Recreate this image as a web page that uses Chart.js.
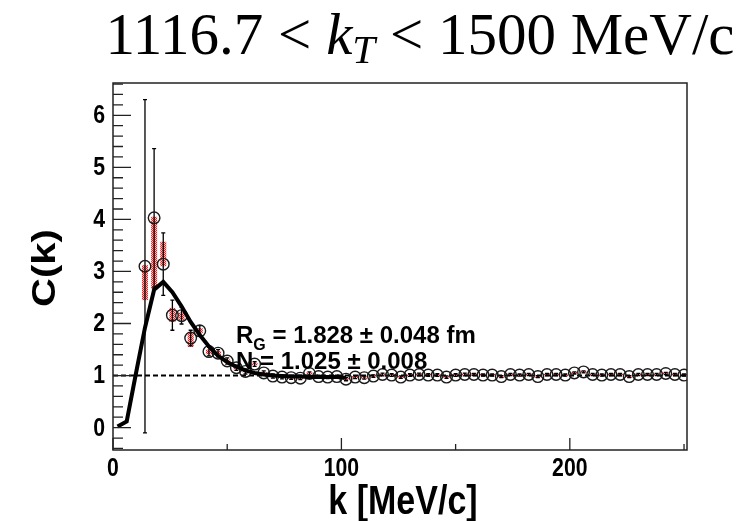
<!DOCTYPE html>
<html>
<head>
<meta charset="utf-8">
<script src="https://cdn.jsdelivr.net/npm/chart.js@4.4.1/dist/chart.umd.min.js"></script>
<style>
  html, body { margin: 0; padding: 0; background: #fff; }
  #cf { display: block; }
</style>
</head>
<body>
<canvas id="cf" width="739" height="521"></canvas>
<script>
// correlation function bins (bin centres, MeV/c)
const kBins = [14, 18, 22, 26, 30, 34, 38, 42, 46, 50,
  54, 58, 62, 66, 70, 74, 78, 82, 86, 90,
  94, 98, 102, 106, 110, 114, 118, 122, 126, 130,
  134, 138, 142, 146, 150, 154, 158, 162, 166, 170,
  174, 178, 182, 186, 190, 194, 198, 202, 206, 210,
  214, 218, 222, 226, 230, 234, 238, 242, 246, 250];
const cValues = [3.10, 4.03, 3.14, 2.16, 2.15, 1.72, 1.86, 1.46, 1.43, 1.28,
  1.15, 1.08, 1.22, 1.05, 0.99, 0.97, 0.96, 0.95, 1.04, 0.98,
  0.97, 0.98, 0.93, 0.97, 0.96, 0.99, 1.02, 1.01, 0.97, 1.01,
  1.02, 1.01, 1.01, 0.97, 1.01, 1.02, 1.02, 1.01, 1.01, 0.98,
  1.02, 1.01, 1.02, 0.98, 1.02, 1.02, 1.01, 1.05, 1.07, 1.02,
  1.01, 1.02, 1.02, 0.98, 1.02, 1.02, 1.02, 1.04, 1.02, 1.01];
const statErr = [3.20, 1.33, 0.60, 0.29, 0.16, 0.15, 0.10, 0.08, 0.07, 0.06,
  0.05, 0.05, 0.045, 0.04, 0.04, 0.035, 0.035, 0.03, 0.03, 0.03,
  0.03, 0.03, 0.03, 0.03, 0.03, 0.025, 0.025, 0.025, 0.025, 0.025,
  0.025, 0.025, 0.025, 0.025, 0.025, 0.025, 0.02, 0.02, 0.02, 0.02,
  0.02, 0.02, 0.02, 0.02, 0.02, 0.02, 0.02, 0.02, 0.02, 0.02,
  0.02, 0.02, 0.02, 0.02, 0.02, 0.02, 0.02, 0.02, 0.02, 0.02];
const sysDown = [0.65, 1.37, 0.04, 0.13, 0.08, 0.17, 0.05, 0.05, 0.04, 0.03,
  0.03, 0.02, 0.02, 0.02, 0.02, 0.02, 0.02, 0.02, 0.02, 0.02,
  0.02, 0.02, 0.02, 0.02, 0.02, 0.02, 0.02, 0.02, 0.02, 0.02,
  0.02, 0.02, 0.02, 0.02, 0.02, 0.02, 0.02, 0.02, 0.02, 0.02,
  0.02, 0.02, 0.02, 0.02, 0.02, 0.02, 0.02, 0.02, 0.02, 0.02,
  0.02, 0.02, 0.02, 0.02, 0.02, 0.02, 0.02, 0.02, 0.02, 0.02];
const sysUp = [0.02, 0.02, 0.43, 0.14, 0.06, 0.12, 0.05, 0.04, 0.04, 0.03,
  0.03, 0.02, 0.02, 0.02, 0.02, 0.02, 0.02, 0.02, 0.02, 0.02,
  0.02, 0.02, 0.02, 0.02, 0.02, 0.02, 0.02, 0.02, 0.02, 0.02,
  0.02, 0.02, 0.02, 0.02, 0.02, 0.02, 0.02, 0.02, 0.02, 0.02,
  0.02, 0.02, 0.02, 0.02, 0.02, 0.02, 0.02, 0.02, 0.02, 0.02,
  0.02, 0.02, 0.02, 0.02, 0.02, 0.02, 0.02, 0.02, 0.02, 0.02];

// gaussian fit, evaluated at the bin centres
const fitK = [2, 6, 10, 14, 18, 22, 26, 30, 34, 38, 42, 46, 50,
  54, 58, 62, 66, 70, 74, 78, 82, 86, 90, 94, 98, 102];
const fitC = [0.02, 0.12, 1.03, 1.92, 2.65, 2.80, 2.60, 2.33, 2.03, 1.78, 1.56, 1.38, 1.26,
  1.17, 1.10, 1.05, 1.02, 1.00, 0.99, 0.98, 0.98, 0.97, 0.97, 0.97, 0.97, 0.96];

const xTicks = [0, 100, 200];
const xHalfTicks = [50, 150, 250];
const yTicks = [0, 1, 2, 3, 4, 5, 6];
const xRange = [0, 251.3];
const yRange = [-0.43, 6.62];

const fitText = ['R', 'G', ' = 1.828 \u00b1 0.048 fm'];
const normText = 'N = 1.025 \u00b1 0.008';

const BOLD = '"Liberation Sans", Arial, sans-serif';
const SERIF = '"Liberation Serif", "DejaVu Serif", serif';

function hatch() {
  const c = document.createElement('canvas');
  c.width = 2; c.height = 2;
  const g = c.getContext('2d');
  g.fillStyle = '#ffc0c0'; g.fillRect(0, 0, 2, 2);
  g.fillStyle = '#f22020'; g.fillRect(0, 0, 1, 1); g.fillRect(1, 1, 1, 1);
  return g.createPattern(c, 'repeat');
}

// squeezed text, the way ROOT's helvetica-bold comes out
function squeezed(ctx, txt, x, y, sx, align) {
  ctx.save();
  ctx.translate(x, y);
  ctx.scale(sx, 1);
  ctx.textAlign = align;
  ctx.fillText(txt, 0, 0);
  ctx.restore();
}

const decor = {
  id: 'decor',
  beforeDatasetsDraw(chart) {
    const ctx = chart.ctx, xs = chart.scales.x, ys = chart.scales.y;
    const area = chart.chartArea;
    ctx.save();
    ctx.beginPath();
    ctx.rect(area.left, area.top, area.right - area.left, area.bottom - area.top);
    ctx.clip();
    // systematic boxes
    ctx.fillStyle = hatch();
    kBins.forEach((k, i) => {
      const px = xs.getPixelForValue(k);
      const top = ys.getPixelForValue(cValues[i] + sysUp[i]);
      const bot = ys.getPixelForValue(cValues[i] - sysDown[i]);
      ctx.fillRect(px - 3, top, 6, bot - top);
    });
    // statistical errors
    ctx.strokeStyle = '#000';
    ctx.lineWidth = 1.3;
    kBins.forEach((k, i) => {
      const px = xs.getPixelForValue(k);
      const top = ys.getPixelForValue(cValues[i] + statErr[i]);
      const bot = ys.getPixelForValue(cValues[i] - statErr[i]);
      ctx.beginPath();
      ctx.moveTo(px, top); ctx.lineTo(px, bot);
      ctx.moveTo(px - 2, top); ctx.lineTo(px + 2, top);
      ctx.moveTo(px - 2, bot); ctx.lineTo(px + 2, bot);
      ctx.stroke();
    });
    ctx.restore();
  },
  afterDraw(chart) {
    const ctx = chart.ctx, xs = chart.scales.x, ys = chart.scales.y;
    const a = chart.chartArea;
    ctx.save();
    // frame
    ctx.strokeStyle = '#222';
    ctx.lineWidth = 1.5;
    ctx.strokeRect(a.left, a.top, a.right - a.left, a.bottom - a.top);

    // y ticks: major at integers, four minor in between
    ctx.lineWidth = 1.3;
    ctx.beginPath();
    for (let v = -0.4; v <= 6.6001; v += 0.2) {
      const r = Math.round(v * 5) / 5;
      const py = ys.getPixelForValue(r);
      const major = Math.abs(r - Math.round(r)) < 1e-6;
      ctx.moveTo(a.left, py);
      ctx.lineTo(a.left + (major ? 18 : 10), py);
    }
    // x ticks
    xTicks.forEach(v => {
      const px = xs.getPixelForValue(v);
      ctx.moveTo(px, a.bottom); ctx.lineTo(px, a.bottom - 12);
    });
    xHalfTicks.forEach(v => {
      const px = xs.getPixelForValue(v);
      ctx.moveTo(px, a.bottom); ctx.lineTo(px, a.bottom - 6);
    });
    ctx.stroke();

    // tick labels
    ctx.fillStyle = '#000';
    ctx.font = 'bold 25px ' + BOLD;
    ctx.textBaseline = 'middle';
    yTicks.forEach(v => squeezed(ctx, String(v), a.left - 8, ys.getPixelForValue(v) + 1, 0.85, 'right'));
    ctx.textBaseline = 'alphabetic';
    xTicks.forEach(v => squeezed(ctx, String(v), xs.getPixelForValue(v), 476, 0.85, 'center'));

    // axis titles
    ctx.font = 'bold 40px ' + BOLD;
    squeezed(ctx, 'k [MeV/c]', 403, 514, 0.85, 'center');
    ctx.save();
    ctx.translate(55, 268);
    ctx.rotate(-Math.PI / 2);
    ctx.scale(1, 0.85);
    ctx.textAlign = 'center';
    ctx.fillText('C(k)', 0, 0);
    ctx.restore();

    // fit results
    ctx.textAlign = 'left';
    ctx.font = 'bold 24px ' + BOLD;
    let x0 = 236;
    ctx.fillText(fitText[0], x0, 343);
    x0 += ctx.measureText(fitText[0]).width;
    ctx.font = 'bold 16px ' + BOLD;
    ctx.fillText(fitText[1], x0, 350);
    x0 += ctx.measureText(fitText[1]).width;
    ctx.font = 'bold 24px ' + BOLD;
    ctx.fillText(fitText[2], x0, 343);
    ctx.fillText(normText, 236, 369);

    // title with math k_T
    const parts = [
      ['1116.7', '', 0], ['\u2005<\u2005', '', 0], ['k', 'italic ', 0], ['T', 'italic ', 1],
      ['\u2005<\u2005', '', 0], ['1500', '', 0], [' MeV/c', '', 0]
    ];
    const fs = 59;
    const fontFor = p => p[1] + (p[2] ? Math.round(fs * 0.7) : fs) + 'px ' + SERIF;
    let total = 0;
    parts.forEach(p => { ctx.font = fontFor(p); total += ctx.measureText(p[0]).width; });
    let tx = 420 - total / 2;
    parts.forEach(p => {
      ctx.font = fontFor(p);
      ctx.fillText(p[0], tx, p[2] ? 63 : 54);
      tx += ctx.measureText(p[0]).width;
    });
    ctx.restore();
  }
};

new Chart(document.getElementById('cf'), {
  type: 'scatter',
  data: {
    datasets: [
      {
        type: 'line',
        data: fitK.map((k, i) => ({ x: k, y: fitC[i] })),
        borderColor: '#000',
        borderWidth: 4,
        pointRadius: 0,
        tension: 0
      },
      {
        data: kBins.map((k, i) => ({ x: k, y: cValues[i] })),
        pointStyle: 'circle',
        pointRadius: 5.8,
        pointBorderWidth: 1.4,
        pointBorderColor: '#1a1a1a',
        pointBackgroundColor: 'rgba(0,0,0,0)'
      },
      {
        type: 'line',
        data: [{ x: xRange[0], y: 1 }, { x: xRange[1], y: 1 }],
        borderColor: '#000',
        borderWidth: 2,
        borderDash: [5, 3],
        pointRadius: 0
      }
    ]
  },
  options: {
    responsive: false,
    animation: false,
    devicePixelRatio: 1,
    layout: { padding: { left: 0, right: 52, top: 83, bottom: 0 } },
    plugins: { legend: { display: false }, tooltip: { enabled: false } },
    scales: {
      x: {
        type: 'linear', min: xRange[0], max: xRange[1],
        grid: { display: false }, border: { display: false },
        ticks: { display: false },
        afterFit: s => { s.height = 71; }
      },
      y: {
        type: 'linear', min: yRange[0], max: yRange[1],
        grid: { display: false }, border: { display: false },
        ticks: { display: false },
        afterFit: s => { s.width = 113; }
      }
    }
  },
  plugins: [decor]
});
</script>
</body>
</html>
